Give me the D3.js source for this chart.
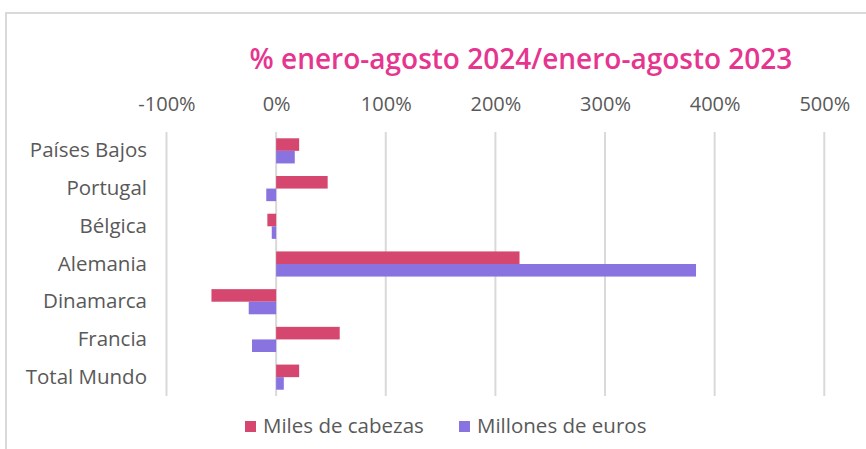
<!DOCTYPE html>
<html>
<head>
<meta charset="utf-8">
<script src="https://cdn.jsdelivr.net/npm/d3@7"></script>
<style>
  body { margin: 0; background: #fff; }
  svg, svg text { font-family: "Open Sans", sans-serif; }
</style>
</head>
<body>
<svg id="chart"></svg>
<script>
// Chart data
let categories = ['Países Bajos', 'Portugal', 'Bélgica', 'Alemania', 'Dinamarca', 'Francia', 'Total Mundo'];
let seriesNames = ['Miles de cabezas', 'Millones de euros'];
let milesCabezas = [21, 47, -8, 222, -59, 58, 21];
let millonesEuros = [17, -9, -4, 383, -25, -22, 7];
let tickValues = [-100, 0, 100, 200, 300, 400, 500];
let colors = ['#d6476f', '#8873e0'];

let width = 866;
let height = 449;

let svg = d3.select('#chart')
    .attr('width', width)
    .attr('height', height);

// frame of the chart area
svg.append('rect')
    .attr('x', 6).attr('y', 13)
    .attr('width', 900).attr('height', 500)
    .attr('fill', 'none')
    .attr('stroke', '#d9d9d9')
    .attr('stroke-width', 2);

// x scale
let x = d3.scaleLinear()
    .domain([-100, 500])
    .range([166.5, 824.3]);

let y = d3.scaleBand()
    .domain(categories)
    .range([132, 396]);

let inner = d3.scaleBand()
    .domain(seriesNames)
    .range([0, y.bandwidth()])
    .paddingOuter(0.5);

// gridlines
svg.append('g')
    .selectAll('line')
    .data(tickValues)
    .join('line')
    .attr('x1', d => x(d)).attr('x2', d => x(d))
    .attr('y1', 132).attr('y2', 396)
    .attr('stroke', '#d9d9d9')
    .attr('stroke-width', 2);

// top axis labels
let xAxis = d3.axisTop(x)
    .tickValues(tickValues)
    .tickFormat(d => d + '%')
    .tickSize(0)
    .tickPadding(0);

let axisG = svg.append('g')
    .attr('transform', 'translate(0,111)')
    .call(xAxis)
    .attr('font-family', null);
axisG.select('.domain').remove();
axisG.selectAll('text')
    .attr('fill', '#595959')
    .style('font-size', '20px');

// category labels
let yAxis = d3.axisLeft(y).tickSize(0).tickPadding(0);
let yG = svg.append('g')
    .attr('transform', 'translate(147,0)')
    .call(yAxis)
    .attr('font-family', null);
yG.select('.domain').remove();
yG.selectAll('text')
    .attr('fill', '#595959')
    .style('font-size', '20.5px');

// bars
let rows = categories.map((c, i) => ({
    cat: c,
    values: [milesCabezas[i], millonesEuros[i]]
}));

let groups = svg.append('g')
    .selectAll('g')
    .data(rows)
    .join('g')
    .attr('transform', d => `translate(0,${y(d.cat)})`);

groups.selectAll('rect')
    .data(d => d.values.map((v, j) => ({ v: v, s: seriesNames[j], j: j })))
    .join('rect')
    .attr('x', d => Math.min(x(0), x(d.v)))
    .attr('width', d => Math.abs(x(d.v) - x(0)))
    .attr('y', d => inner(d.s))
    .attr('height', inner.bandwidth())
    .attr('fill', d => colors[d.j]);

// title
svg.append('text')
    .attr('x', 521)
    .attr('y', 69)
    .attr('text-anchor', 'middle')
    .attr('fill', '#e6358f')
    .style('font-size', '28px')
    .style('font-weight', 600)
    .text('% enero-agosto 2024/enero-agosto 2023');

// legend
let legendX = [245, 459];
let legend = svg.append('g')
    .selectAll('g')
    .data(seriesNames)
    .join('g')
    .attr('transform', (d, i) => `translate(${legendX[i]},421)`);

legend.append('rect')
    .attr('width', 11).attr('height', 11)
    .attr('fill', (d, i) => colors[i]);

legend.append('text')
    .attr('x', 18)
    .attr('y', 12)
    .attr('fill', '#595959')
    .style('font-size', '20.5px')
    .text(d => d);
</script>
</body>
</html>
